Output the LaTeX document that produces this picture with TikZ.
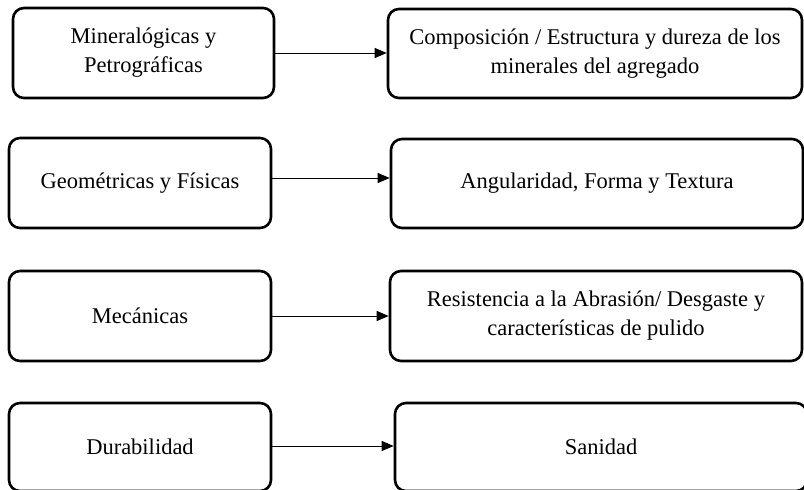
\documentclass[tikz,border=0pt]{standalone}
\usepackage{fontspec}
\setmainfont{Liberation Serif}
\usetikzlibrary{arrows.meta}
\begin{document}
\begin{tikzpicture}[x=1pt,y=-1pt,
  box/.style={draw=black,line width=2.6pt,rounded corners=11pt,align=center,
    inner sep=0pt,font=\fontsize{22.5}{29}\selectfont},
  conn/.style={line width=1pt,-{Triangle[length=12pt,width=10pt]}}]
\useasboundingbox (0,0) rectangle (804,490);
\clip (0,0) rectangle (804,490);
\node[box,minimum width=261pt,minimum height=90pt] (L1) at (143.5,53) {Mineralógicas y\\Petrográficas};
\node[box,minimum width=414pt,minimum height=89pt] (R1) at (595,53.5) {Composición / Estructura y dureza de los\\minerales del agregado};
\node[box,minimum width=262pt,minimum height=90pt] (L2) at (140,183) {Geométricas y Físicas};
\node[box,minimum width=412pt,minimum height=89pt] (R2) at (597,183.5) {Angularidad, Forma y Textura};
\node[box,minimum width=262pt,minimum height=90pt] (L3) at (140,316) {Mecánicas};
\node[box,minimum width=412pt,minimum height=90pt] (R3) at (596,316) {Resistencia a la Abrasión/ Desgaste y\\características de pulido};
\node[box,minimum width=262pt,minimum height=88pt] (L4) at (140,447) {Durabilidad};
\node[box,minimum width=412pt,minimum height=88pt] (R4) at (601,447) {Sanidad};
\draw[conn] (L1.east) -- (R1.west |- L1.east);
\draw[conn] ([yshift=5pt]L2.east) -- ([yshift=5pt]L2.east -| R2.west);
\draw[conn] (L3.east) -- (R3.west |- L3.east);
\draw[conn] ([yshift=1pt]L4.east) -- ([yshift=1pt]L4.east -| R4.west);
\end{tikzpicture}
\end{document}
